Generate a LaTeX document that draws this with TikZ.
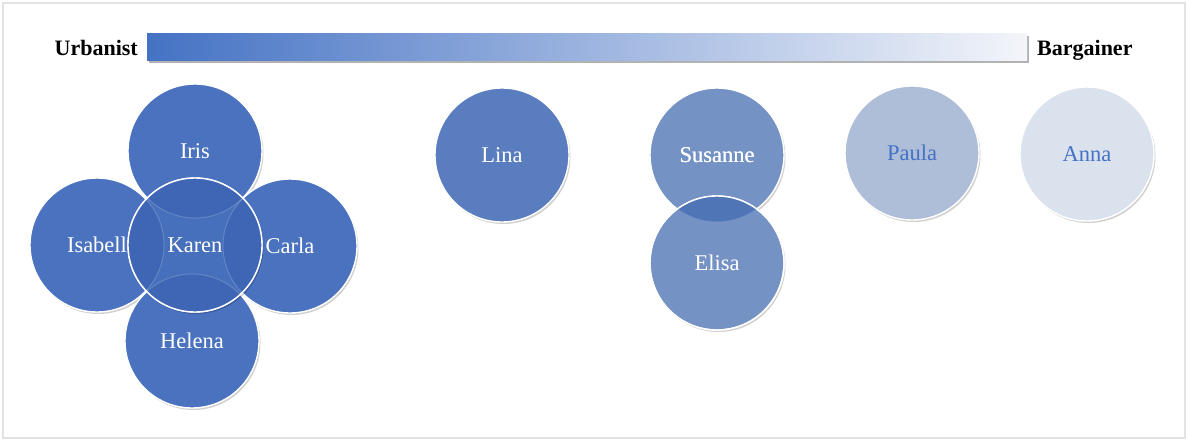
\documentclass[tikz,border=0pt]{standalone}
\usepackage{fontspec}
\setmainfont{Liberation Serif}
\usetikzlibrary{shadows}

\definecolor{framegray}{HTML}{E3E3E3}
\definecolor{barstart}{HTML}{4472C4}
\definecolor{barend}{HTML}{F3F5FA}
\definecolor{coreblue}{HTML}{4A72BF}
\definecolor{karenblue}{HTML}{4670BC}
\definecolor{overlapblue}{HTML}{3E66B5}
\definecolor{linablue}{HTML}{5A7DC0}
\definecolor{midblue}{HTML}{7592C5}
\definecolor{pairoverlap}{HTML}{5075B7}
\definecolor{paleblue}{HTML}{AEBDD8}
\definecolor{faintblue}{HTML}{DAE2EE}
\definecolor{labelblue}{HTML}{4472C4}

\tikzset{
  person/.style={circle, minimum size=134pt, inner sep=0pt,
    draw=white, line width=1.4pt, text=white,
    font=\fontsize{22.5pt}{24pt}\selectfont,
    drop shadow={shadow xshift=1.5pt, shadow yshift=-2pt, opacity=0.18, fill=black}},
  endlabel/.style={inner sep=0pt, font=\fontsize{22pt}{24pt}\selectfont\bfseries},
  scalebar/.style={minimum width=880pt, minimum height=27pt, inner sep=0pt,
    left color=barstart, right color=barend, draw=none,
    drop shadow={shadow xshift=2pt, shadow yshift=-2.5pt, opacity=0.3, fill=black}},
  lightarc/.style={draw=white, draw opacity=0.18, line width=1pt}
}

\begin{document}
\begin{tikzpicture}[x=1pt, y=-1pt]
  \useasboundingbox (0,0) rectangle (1187,440);
  \draw[framegray, line width=2pt] (3,2.5) rectangle (1184.5,438);

  % scale from Urbanist to Bargainer
  \node[scalebar] (bar) at (587,46.5) {};
  \node[endlabel, anchor=base east] (urb) at (138,55) {Urbanist};
  \node[endlabel, anchor=base west] (barg) at (1037,55) {Bargainer};

  % central cluster
  \node[person, fill=coreblue] (iris)    at (195,151) {Iris};
  \node[person, fill=coreblue] (isabell) at (97,245)  {Isabell};
  \node[person, fill=coreblue] (carla)   at (290,246) {Carla};
  \node[person, fill=coreblue] (helena)  at (192,341) {Helena};
  \node[person, fill=karenblue] (karen)  at (195,245) {};
  \begin{scope}
    \clip (karen.center) circle (67pt);
    \foreach \n in {iris,isabell,carla,helena}
      \fill[overlapblue] (\n.center) circle (67pt);
    \foreach \n in {iris,isabell,carla,helena}
      \draw[lightarc] (\n.center) circle (67pt);
  \end{scope}
  \draw[white, line width=1.4pt] (karen.center) circle (67pt);
  \node[text=white, font=\fontsize{22.5pt}{24pt}\selectfont] (karenname) at (karen.center) {Karen};

  % single circle
  \node[person, fill=linablue] (lina) at (502,155) {Lina};

  % overlapping pair
  \node[person, fill=midblue] (susanne) at (717,155) {Susanne};
  \node[person, fill=midblue] (elisa)   at (717,263) {Elisa};
  \begin{scope}
    \clip (susanne.center) circle (67pt);
    \fill[pairoverlap] (elisa.center) circle (67pt);
    \draw[lightarc] (susanne.center) circle (67pt);
  \end{scope}
  \draw[white, line width=1.4pt] (elisa.center) circle (67pt);
  \node[text=white, font=\fontsize{22.5pt}{24pt}\selectfont] (susname) at (susanne.center) {Susanne};

  % bargainer side
  \node[person, fill=paleblue, text=labelblue] (paula) at (912,153) {Paula};
  \node[person, fill=faintblue, text=labelblue] (anna) at (1087,154) {Anna};
\end{tikzpicture}
\end{document}
